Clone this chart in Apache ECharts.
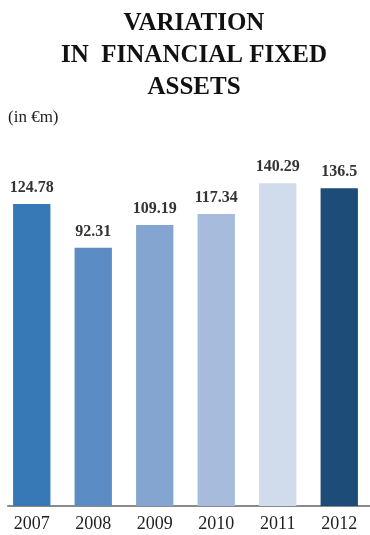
<!DOCTYPE html>
<html>
<head>
<meta charset="utf-8">
<script src="https://cdn.jsdelivr.net/npm/echarts@6/dist/echarts.min.js"></script>
<style>
  html, body { margin: 0; padding: 0; background: #fff; }
  #chart { width: 370px; height: 535px; }
</style>
</head>
<body>
<div id="chart"></div>
<script>
// Financial fixed assets, in € millions, by year
const years = ['2007', '2008', '2009', '2010', '2011', '2012'];
const values = [124.78, 92.31, 109.19, 117.34, 140.29, 136.5];
const barColors = ['#3778b6', '#5b8cc3', '#84a5cf', '#a7bbdc', '#d0dbeb', '#1e4c78'];

const AXIS_MIN = -100;
const AXIS_MAX = 165;
const SERIF = '"Liberation Serif", "DejaVu Serif", serif';

const chart = echarts.init(document.getElementById('chart'), null, { renderer: 'canvas' });

chart.setOption({
  animation: false,
  title: {
    text: 'VARIATION\nIN  FINANCIAL FIXED\nASSETS',
    left: 189,
    top: 3,
    textAlign: 'center',
    textStyle: {
      fontFamily: SERIF,
      fontSize: 25,
      fontWeight: 'bold',
      color: '#111',
      lineHeight: 32
    }
  },
  graphic: [{
    type: 'text',
    left: 8,
    top: 109,
    style: {
      text: '(in €m)',
      font: '17px ' + SERIF,
      fill: '#222'
    }
  }],
  grid: [
    { left: 1, right: -7, top: 150, bottom: 29 },
    { left: 8, right: 0, top: 150, bottom: 29 }
  ],
  xAxis: [
    {
      type: 'category',
      gridIndex: 0,
      data: years,
      axisLine: { show: false },
      axisTick: { show: false },
      axisLabel: {
        fontFamily: SERIF,
        fontSize: 18,
        color: '#222',
        margin: 9
      }
    },
    {
      type: 'value',
      gridIndex: 1,
      axisLine: { show: true, lineStyle: { color: '#8a8a8a', width: 2 } },
      axisTick: { show: false },
      axisLabel: { show: false },
      splitLine: { show: false }
    }
  ],
  yAxis: [
    { type: 'value', gridIndex: 0, min: AXIS_MIN, max: AXIS_MAX, show: false, splitLine: { show: false } },
    { type: 'value', gridIndex: 1, show: false, splitLine: { show: false } }
  ],
  series: [{
    type: 'custom',
    xAxisIndex: 0,
    yAxisIndex: 0,
    data: values.map((v, i) => [i, v]),
    renderItem: function (params, api) {
      const idx = api.value(0);
      const val = api.value(1);
      const top = api.coord([idx, val]);
      const base = api.coord([idx, AXIS_MIN]);
      const bandWidth = api.size([1, 0])[0];
      const w = bandWidth * 0.607;
      return {
        type: 'rect',
        shape: { x: top[0] - w / 2, y: top[1], width: w, height: base[1] - top[1] },
        style: { fill: barColors[idx] },
        textContent: {
          style: {
            text: String(values[idx]),
            font: 'bold 16px ' + SERIF,
            fill: '#333'
          }
        },
        textConfig: { position: 'top', distance: 8 }
      };
    }
  }]
});
</script>
</body>
</html>
